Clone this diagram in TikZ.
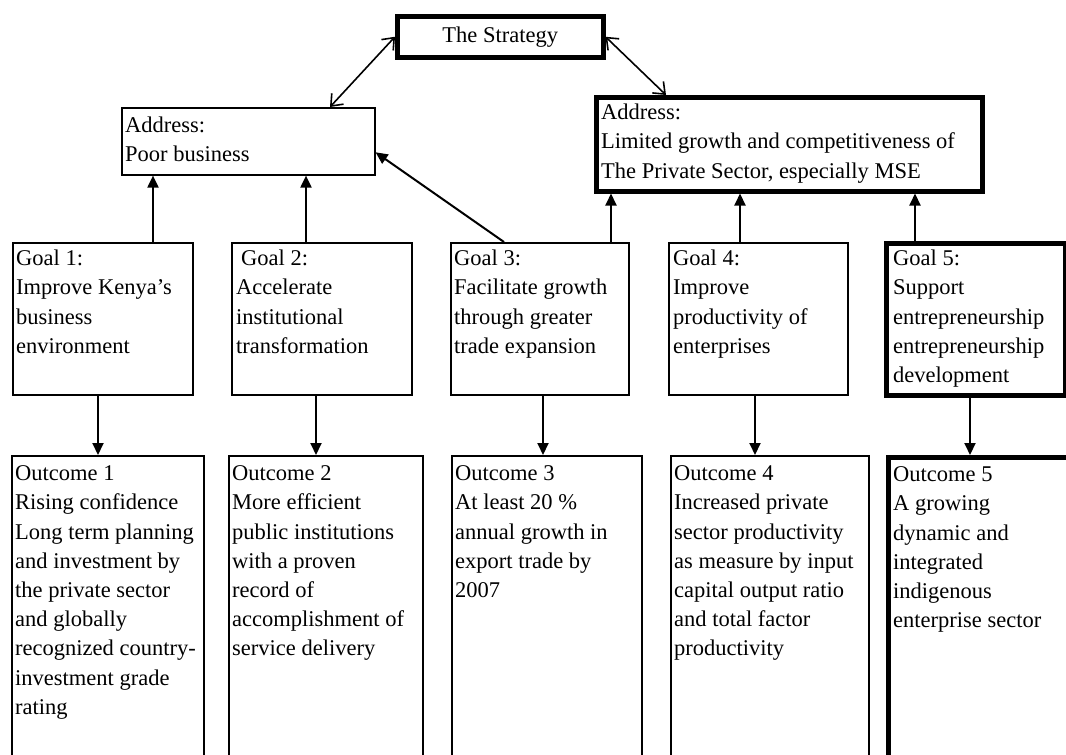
\documentclass[tikz,border=0pt]{standalone}
\usepackage{fontspec}
\setmainfont{Liberation Serif}
\usetikzlibrary{arrows.meta}
\newcommand\diagfont{\fontsize{22.5pt}{29.2pt}\selectfont}
\begin{document}
\begin{tikzpicture}[x=1pt,y=-1pt,
  thinbox/.style={draw, line width=1.6pt, inner sep=0pt, anchor=north west},
  thickbox/.style={draw, line width=4.5pt, inner sep=0pt, anchor=north west},
  boxtext/.style={anchor=north west, inner sep=0pt, align=left, font=\diagfont},
  uparrow/.style={line width=2pt, -{Triangle[length=12pt,width=11pt]}},
  dblarrow/.style={line width=1.6pt,
    {Straight Barb[length=10pt,width=16pt]}-{Straight Barb[length=10pt,width=16pt]}}]
\useasboundingbox (0,0) rectangle (1066,755);
\begin{scope}
\clip (0,0) rectangle (1066,755);

% top level
\node[thickbox, minimum width=206pt, minimum height=41pt, font=\diagfont] (st) at (395,14) {The Strategy};

% the two problems addressed
\node[thinbox, minimum width=253pt, minimum height=67pt] (a1) at (121,107) {};
\node[boxtext] (a1t) at (125,112) {\strut Address:\\Poor business};
\node[thickbox, minimum width=386pt, minimum height=94pt] (a2) at (594,95) {};
\node[boxtext] (a2t) at (601,99) {\strut Address:\\Limited growth and competitiveness of\\The Private Sector, especially MSE};

% goals
\node[thinbox, minimum width=180pt, minimum height=152pt] (g1) at (12,242) {};
\node[thinbox, minimum width=180pt, minimum height=152pt] (g2) at (231,242) {};
\node[thinbox, minimum width=178pt, minimum height=152pt] (g3) at (450,242) {};
\node[thinbox, minimum width=179pt, minimum height=152pt] (g4) at (668,242) {};
\node[thickbox, minimum width=179pt, minimum height=152pt] (g5) at (884,241) {};
\node[boxtext] (g1t) at (16,245) {\strut Goal 1:\\Improve Kenya’s\\business\\environment};
\node[boxtext] (g2t) at (236,245) {\strut\hspace{5pt}Goal 2:\\Accelerate\\institutional\\transformation};
\node[boxtext] (g3t) at (454,245) {\strut Goal 3:\\Facilitate growth\\through greater\\trade expansion};
\node[boxtext] (g4t) at (673,245) {\strut Goal 4:\\Improve\\productivity of\\enterprises};
\node[boxtext] (g5t) at (893,245) {\strut Goal 5:\\Support\\entrepreneurship\\entrepreneurship\\development};

% outcomes (they run on past the lower edge)
\node[thinbox, minimum width=192pt, minimum height=320pt] (o1) at (11,455) {};
\node[thinbox, minimum width=194pt, minimum height=320pt] (o2) at (228,455) {};
\node[thinbox, minimum width=190pt, minimum height=320pt] (o3) at (451,455) {};
\node[thinbox, minimum width=198pt, minimum height=320pt] (o4) at (670,455) {};
\node[thickbox, minimum width=200pt, minimum height=320pt] (o5) at (886,455) {};
\node[boxtext] (o1t) at (15,460) {\strut Outcome 1\\Rising confidence\\Long term planning\\and investment by\\the private sector\\and globally\\recognized country-\\investment grade\\rating};
\node[boxtext] (o2t) at (232,460) {\strut Outcome 2\\More efficient\\public institutions\\with a proven\\record of\\accomplishment of\\service delivery};
\node[boxtext] (o3t) at (455,460) {\strut Outcome 3\\At least 20 \%\\annual growth in\\export trade by\\2007};
\node[boxtext] (o4t) at (674,460) {\strut Outcome 4\\Increased private\\sector productivity\\as measure by input\\capital output ratio\\and total factor\\productivity};
\node[boxtext] (o5t) at (893,461) {\strut Outcome 5\\A growing\\dynamic and\\integrated\\indigenous\\enterprise sector};

% strategy <-> addressed problems
\draw[dblarrow] (st.west) -- (a1.north -| 330,0);
\draw[dblarrow] (st.east) -- (a2.north -| 666,0);

% goals -> addressed problems
\draw[uparrow] (g1.north -| 153,0) -- (a1.south -| 153,0);
\draw[uparrow] (g2.north -| 306,0) -- (a1.south -| 306,0);
\draw[uparrow] (g3.north -| 504,0) -- ([yshift=-11pt]a1.east);
\draw[uparrow] (g3.north -| 611,0) -- (a2.south -| 611,0);
\draw[uparrow] (g4.north -| 740,0) -- (a2.south -| 740,0);
\draw[uparrow] (g5.north -| 915,0) -- (a2.south -| 915,0);

% goals -> outcomes
\draw[uparrow] (g1.south -| 98,0) -- (o1.north -| 98,0);
\draw[uparrow] (g2.south -| 316,0) -- (o2.north -| 316,0);
\draw[uparrow] (g3.south -| 543,0) -- (o3.north -| 543,0);
\draw[uparrow] (g4.south -| 755,0) -- (o4.north -| 755,0);
\draw[uparrow] (g5.south -| 970,0) -- (o5.north -| 970,0);
\end{scope}
\end{tikzpicture}
\end{document}
